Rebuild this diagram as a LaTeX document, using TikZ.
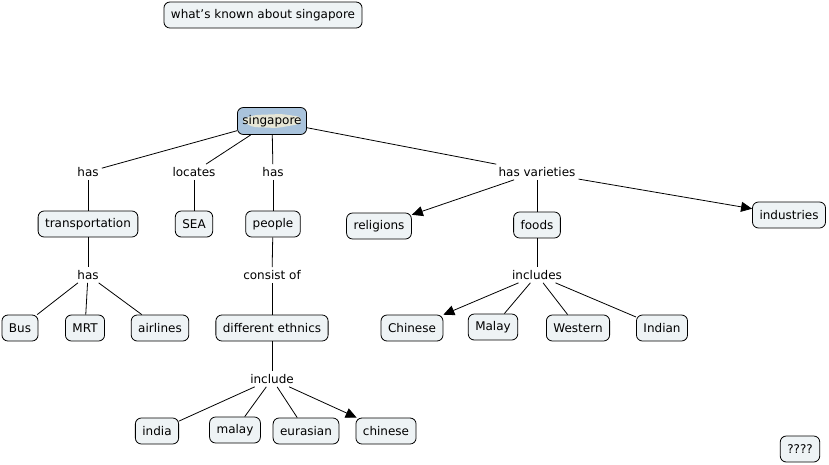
\documentclass[tikz,border=0pt]{standalone}
\usepackage{fontspec}
\setmainfont{DejaVu Sans}
\usetikzlibrary{arrows.meta}
\definecolor{cfill}{HTML}{EEF3F5}
\definecolor{mapblue}{HTML}{A9C3DC}
\definecolor{island}{HTML}{E6E6D6}
\tikzset{
  concept/.style={draw=black, line width=0.8pt, rounded corners=6pt, fill=cfill,
    minimum height=26pt, inner xsep=7pt, inner ysep=2pt, font=\fontsize{12}{14}\selectfont},
  linkph/.style={inner sep=3pt, font=\fontsize{12}{14}\selectfont},
  conn/.style={line width=0.8pt},
  arr/.style={line width=0.8pt, -{Triangle[length=11pt,width=10pt]}}
}
\begin{document}
\begin{tikzpicture}[x=1pt,y=-1pt]
\useasboundingbox (0,0) rectangle (829,464);
\node[concept] (title) at (263,15) {what{\char"0027}s known about singapore};
\node[concept, fill=mapblue, minimum height=27pt, inner xsep=5pt,
  path picture={\fill[island, rounded corners=4pt]
    ([shift={(-31pt,1pt)}]path picture bounding box.center) --
    ([shift={(-20pt,-6pt)}]path picture bounding box.center) --
    ([shift={(5pt,-7pt)}]path picture bounding box.center) --
    ([shift={(28pt,-3pt)}]path picture bounding box.center) --
    ([shift={(30pt,4pt)}]path picture bounding box.center) --
    ([shift={(10pt,7pt)}]path picture bounding box.center) --
    ([shift={(-18pt,6pt)}]path picture bounding box.center) -- cycle;}
  ] (sing) at (272,121) {singapore};
\node[linkph] (has1) at (88,172) {has};
\node[linkph] (loc) at (194,172) {locates};
\node[linkph] (has2) at (273,172) {has};
\node[linkph] (hv) at (537,172) {has varieties};
\node[concept] (trans) at (88,224) {transportation};
\node[concept] (sea) at (194,224) {SEA};
\node[concept] (people) at (273,224) {people};
\node[concept] (rel) at (379,226) {religions};
\node[concept] (foods) at (537,225) {foods};
\node[concept] (ind) at (789,215) {industries};
\node[linkph] (has3) at (88,275) {has};
\node[concept] (bus) at (20,328) {Bus};
\node[concept] (mrt) at (85,328) {MRT};
\node[concept] (air) at (160,328) {airlines};
\node[linkph] (cons) at (272,275) {consist of};
\node[concept] (diff) at (272,328) {different ethnics};
\node[linkph] (incl) at (272,379) {include};
\node[concept] (india) at (157,431) {india};
\node[concept] (malay) at (235,430) {malay};
\node[concept] (eur) at (306,431) {eurasian};
\node[concept] (chin) at (386,431) {chinese};
\node[linkph] (incs) at (537,275) {includes};
\node[concept] (Chin) at (412,328) {Chinese};
\node[concept] (Mal) at (493,327) {Malay};
\node[concept] (West) at (578,328) {Western};
\node[concept] (Ind) at (662,328) {Indian};
\node[concept] (q) at (800,449) {????};

\draw[conn] (sing) -- (has1);
\draw[conn] (has1) -- (trans);
\draw[conn] (sing) -- (loc);
\draw[conn] (loc) -- (sea);
\draw[conn] (sing) -- (has2);
\draw[conn] (has2) -- (people);
\draw[conn] (sing) -- (hv);
\draw[arr] (hv) -- (rel);
\draw[conn] (hv) -- (foods);
\draw[arr] (hv) -- (ind);
\draw[conn] (trans) -- (has3);
\draw[conn] (has3) -- (bus);
\draw[conn] (has3) -- (mrt);
\draw[conn] (has3) -- (air);
\draw[conn] (people) -- (cons);
\draw[conn] (cons) -- (diff);
\draw[conn] (diff) -- (incl);
\draw[conn] (incl) -- (india);
\draw[conn] (incl) -- (malay);
\draw[conn] (incl) -- (eur);
\draw[arr] (incl) -- (chin);
\draw[conn] (foods) -- (incs);
\draw[arr] (incs) -- (Chin);
\draw[conn] (incs) -- (Mal);
\draw[conn] (incs) -- (West);
\draw[conn] (incs) -- (Ind);
\end{tikzpicture}
\end{document}
